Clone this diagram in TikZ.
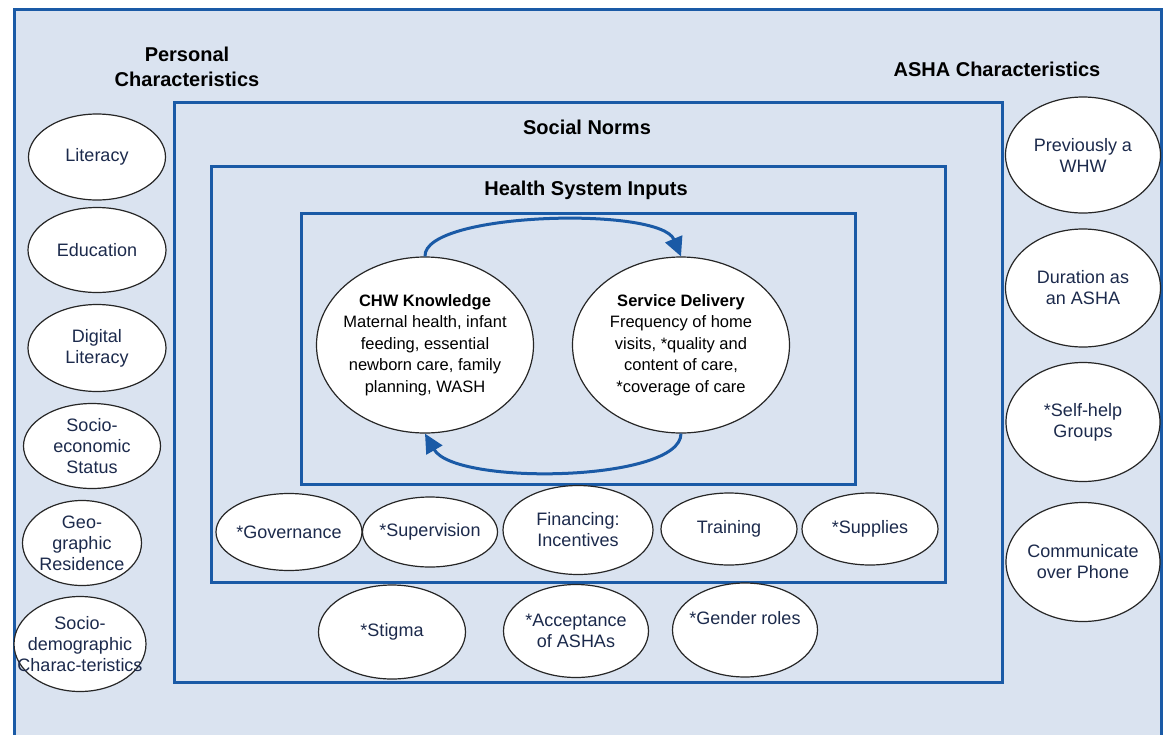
\documentclass[tikz,border=0pt]{standalone}
\usepackage{fontspec}
\setmainfont{Liberation Sans}
\usetikzlibrary{shapes.geometric,arrows.meta}
\definecolor{frameblue}{HTML}{1A5AA6}
\definecolor{panel}{HTML}{DAE3F0}
\definecolor{navy}{HTML}{1C2A4C}

\begin{document}
\begin{tikzpicture}[x=1pt,y=-1pt,
  frame/.style={draw=frameblue, line width=3pt},
  oval/.style={ellipse, draw=black!85, line width=1.2pt, fill=white, inner sep=0pt},
  ftext/.style={align=center, text=navy, inner sep=0pt, font=\fontsize{18}{21}\selectfont},
  ctext/.style={align=center, text=black, inner sep=0pt, font=\fontsize{16.5}{21.5}\selectfont},
  factor/.style={oval, label={[ftext]center:{#1}}},
  core/.style={oval, minimum width=217pt, minimum height=176pt, label={[ctext]center:{#1}}},
  title/.style={font=\bfseries\fontsize{20}{24.5}\selectfont, align=center},
  loop/.style={draw=frameblue, line width=3pt, -{Triangle[length=19pt,width=18pt]}}
]
\useasboundingbox (0,0) rectangle (1165,734);
\clip (0,0) rectangle (1165,734);

% nested frames
\draw[frame, fill=panel] (14,9) rectangle (1161,790);
\draw[frame] (174,102) rectangle (1002,682);
\draw[frame] (211,166) rectangle (945,582);
\draw[frame] (301,213) rectangle (855,484);

% frame titles
\node[title] (personal) at (187,67) {Personal\\Characteristics};
\node[title] (asha) at (997,69) {ASHA Characteristics};
\node[title] (norms) at (587,127) {Social Norms};
\node[title] (hsi) at (586,190) {Health System Inputs};

% personal characteristics
\node[factor={Literacy}, minimum width=137pt, minimum height=86pt] (literacy) at (97,157) {};
\node[factor={Education}, minimum width=138pt, minimum height=85pt] (education) at (97,250) {};
\node[factor={Digital\\Literacy}, minimum width=138pt, minimum height=87pt] (digital) at (97,348) {};
\node[factor={Socio-\\economic\\Status}, minimum width=137pt, minimum height=85pt] (socioecon) at (92,446) {};
\node[factor={Geo-\\graphic\\Residence}, minimum width=119pt, minimum height=85pt] (geo) at (82,543) {};
\node[factor={Socio-\\demographic\\Charac-teristics}, minimum width=132pt, minimum height=95pt] (sociodemo) at (80,644) {};

% ASHA characteristics
\node[factor={Previously a\\WHW}, minimum width=155pt, minimum height=116pt] (prevwhw) at (1083,155) {};
\node[factor={Duration as\\an ASHA}, minimum width=155pt, minimum height=118pt] (duration) at (1083,288) {};
\node[factor={*Self-help\\Groups}, minimum width=154pt, minimum height=119pt] (selfhelp) at (1083,422) {};
\node[factor={Communicate\\over Phone}, minimum width=154pt, minimum height=119pt] (phone) at (1083,562) {};

% health system inputs
\node[factor={*Governance}, minimum width=146pt, minimum height=77pt] (governance) at (289,532) {};
\node[factor={*Supervision}, minimum width=135pt, minimum height=70pt] (supervision) at (430,532) {};
\node[factor={Financing:\\Incentives}, minimum width=150pt, minimum height=89pt] (financing) at (578,530) {};
\node[factor={Training}, minimum width=136pt, minimum height=72pt] (training) at (729,529) {};
\node[factor={*Supplies}, minimum width=136pt, minimum height=72pt] (supplies) at (870,529) {};

% social norms
\node[factor={*Stigma}, minimum width=147pt, minimum height=94pt] (stigma) at (392,632) {};
\node[factor={*Acceptance\\of ASHAs}, minimum width=145pt, minimum height=93pt] (acceptance) at (576,631) {};
\node[oval, minimum width=145pt, minimum height=94pt,
      label={[ftext, yshift=12pt]center:{*Gender roles}}] (gender) at (745,630) {};

% core loop
\node[core={\textbf{CHW Knowledge}\\Maternal health, infant\\feeding, essential\\newborn care, family\\planning, WASH}] (chw) at (425,345) {};
\node[core={\textbf{Service Delivery}\\Frequency of home\\visits, *quality and\\content of care,\\*coverage of care}] (service) at (681,345) {};

\draw[loop] (chw.north) .. controls (423,212) and (660,206) .. (service.north);
\draw[loop] (service.south) .. controls (681,482) and (455,486) .. (chw.south);
\end{tikzpicture}
\end{document}
